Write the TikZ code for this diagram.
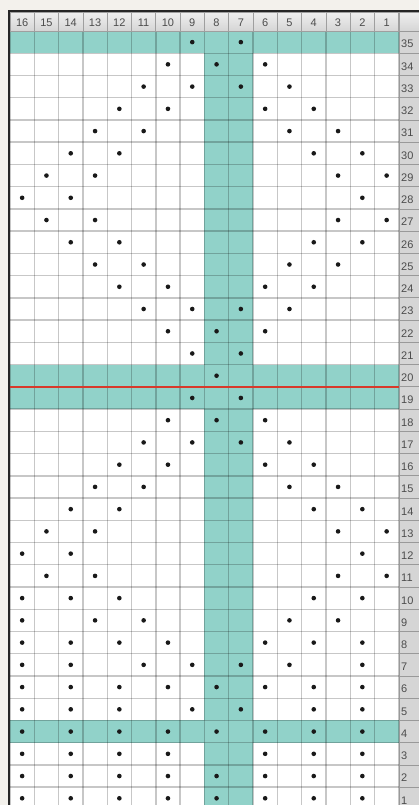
\documentclass[tikz,border=0pt]{standalone}
\usepackage{fontspec}
\setmainfont{Liberation Sans}
\usetikzlibrary{positioning}
\definecolor{paper}{HTML}{F3F1EC}
\definecolor{cteal}{HTML}{91D2C9}
\definecolor{cgrid}{HTML}{BDBDBD}
\definecolor{chead}{HTML}{D5D5D5}
\definecolor{cred}{HTML}{D8392B}

\begin{document}
\begin{tikzpicture}[
  x=1pt, y=-1pt,
  font=\fontsize{11}{11}\selectfont,
  headcell/.style={top color=gray!12, bottom color=chead, draw=gray!75, line width=0.8pt},
  rowcell/.style={fill=chead, draw=gray!80, line width=0.8pt},
  gridline/.style={draw=black, opacity=0.22, line width=1.4pt},
  dot/.style={circle, fill=black!90, inner sep=0pt, minimum size=4.6pt},
]
\useasboundingbox (0,0) rectangle (419,805);
\fill[paper] (0,0) rectangle (419,805);
% chart area
\fill[white] (10,31) rectangle (399,812);
% teal: centre columns 8 and 7
\fill[cteal] (204.4,31) rectangle (253,812);
% teal: marker rows
\foreach \r in {35,20,19,4} {
  \pgfmathsetmacro{\yt}{31+(35-\r)*22.24}
  \fill[cteal] (10,\yt) rectangle (399,\yt+22.24);
}
% grid
\foreach \i in {0,...,16} {
  \draw[gridline] (10+\i*24.3,31) -- (10+\i*24.3,812);
}
\foreach \j in {0,...,35} {
  \draw[gridline] (10,31+\j*22.24) -- (399,31+\j*22.24);
}
% red divider between rows 20 and 19
\draw[cred, line width=2pt] (10,386.8) -- (399,386.8);
% Column headers
\foreach \i in {0,...,15} {
  \pgfmathtruncatemacro{\c}{16-\i}
  \pgfmathsetmacro{\xl}{10+\i*24.3}
  \draw[headcell] (\xl,12) rectangle (\xl+24.3,31);
  \node[text=black!70, inner sep=0pt] (h\c) at (\xl+12.15,22.5) {\c};
}
\draw[headcell] (399,12) rectangle (430,31);
% Row numbers
\foreach \r in {1,...,35} {
  \pgfmathsetmacro{\yt}{31+(35-\r)*22.24}
  \draw[rowcell] (399,\yt) rectangle (430,\yt+22.24);
  \node[anchor=base west, text=black!70, inner sep=0pt] (r\r) at (401,\yt+17) {\r};
}
% stitches
\foreach \r/\cols in {
  35/{9,7}, 34/{10,8,6}, 33/{11,9,7,5}, 32/{12,10,6,4},
  31/{13,11,5,3}, 30/{14,12,4,2}, 29/{15,13,3,1}, 28/{16,14,2},
  27/{15,13,3,1}, 26/{14,12,4,2}, 25/{13,11,5,3}, 24/{12,10,6,4},
  23/{11,9,7,5}, 22/{10,8,6}, 21/{9,7}, 20/{8},
  19/{9,7}, 18/{10,8,6}, 17/{11,9,7,5}, 16/{12,10,6,4},
  15/{13,11,5,3}, 14/{14,12,4,2}, 13/{15,13,3,1}, 12/{16,14,2},
  11/{15,13,3,1}, 10/{16,14,12,4,2}, 9/{16,13,11,5,3},
  8/{16,14,12,10,6,4,2}, 7/{16,14,11,9,7,5,2},
  6/{16,14,12,10,8,6,4,2}, 5/{16,14,12,9,7,4,2},
  4/{16,14,12,10,8,6,4,2}, 3/{16,14,12,10,6,4,2},
  2/{16,14,12,10,8,6,4,2}, 1/{16,14,12,10,8,6,4,2}%
}{
  \foreach \c in \cols {
    \pgfmathsetmacro{\xc}{10+(16-\c)*24.3+12.15}
    \pgfmathsetmacro{\yc}{31+(35-\r)*22.24+11.12}
    \node[dot] (d-\r-\c) at (\xc,\yc) {};
  }
}
% frame
\draw[black!85, line width=2.2pt] (9,812) -- (9,11) -- (430,11);
\end{tikzpicture}
\end{document}
